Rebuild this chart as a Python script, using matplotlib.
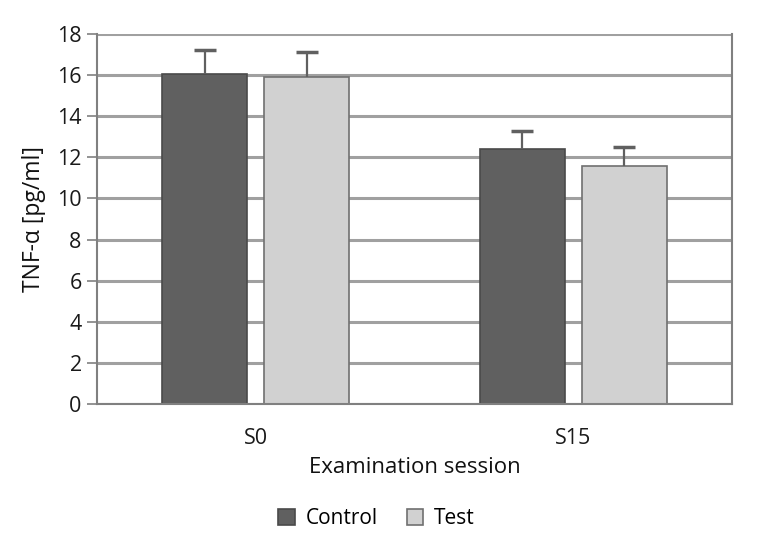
import matplotlib
matplotlib.use("Agg")
import matplotlib.pyplot as plt
import numpy as np

plt.rcParams['font.family'] = ['Open Sans', 'DejaVu Sans']

categories = ["S0", "S15"]
control = [16.05, 12.4]
control_err = [1.15, 0.9]
test = [15.9, 11.6]
test_err = [1.2, 0.9]
yticks = [0, 2, 4, 6, 8, 10, 12, 14, 16, 18]

fig = plt.figure(figsize=(7.58, 5.39), dpi=100)
ax = fig.add_axes([0.128, 0.2505, 0.8377, 0.6865])

x = np.arange(len(categories))
w = 0.268
off = 0.161
ax.set_axisbelow(True)
ax.yaxis.grid(True, color='#a0a0a0', linewidth=2.2)
eb = dict(ecolor='#606060', elinewidth=1.6, capsize=8, capthick=2.5)
b1 = ax.bar(x - off, control, w, color='#606060', edgecolor='#4a4a4a', linewidth=1.2,
            yerr=[[0, 0], control_err], error_kw=eb, label='Control')
b2 = ax.bar(x + off, test, w, color='#d1d1d1', edgecolor='#707070', linewidth=1.2,
            yerr=[[0, 0], test_err], error_kw=eb, label='Test')
for b in (b1, b2):
    caps = b.errorbar.lines[1]
    caps[0].set_visible(False)

ax.set_xlim(-0.5, 1.5)
ax.set_ylim(0, 18)
ax.set_yticks(yticks)
ax.set_xticks(x)
ax.set_xticklabels(categories)
ax.tick_params(axis='y', length=7, width=1.2, color='#808080', labelsize=15.5, pad=4,
               labelcolor='#1a1a1a')
ax.tick_params(axis='x', length=0, labelsize=15.5, pad=17, labelcolor='#1a1a1a')
for s in ['top']:
    ax.spines[s].set_visible(False)
for s in ['left', 'right', 'bottom']:
    ax.spines[s].set_color('#808080')
    ax.spines[s].set_linewidth(1.5)
ax.set_ylabel('TNF-α [pg/ml]', fontsize=16.5, labelpad=8, fontweight='medium',
              color='#111111')
ax.set_xlabel('Examination session', fontsize=16, labelpad=6, fontweight='medium',
              color='#111111')
ax.legend(loc='upper center', bbox_to_anchor=(0.44, -0.23), ncol=2, frameon=False,
          fontsize=15, handlelength=0.8, handleheight=0.8, handletextpad=0.5,
          columnspacing=1.4)

fig.savefig('out.png', dpi=100)
